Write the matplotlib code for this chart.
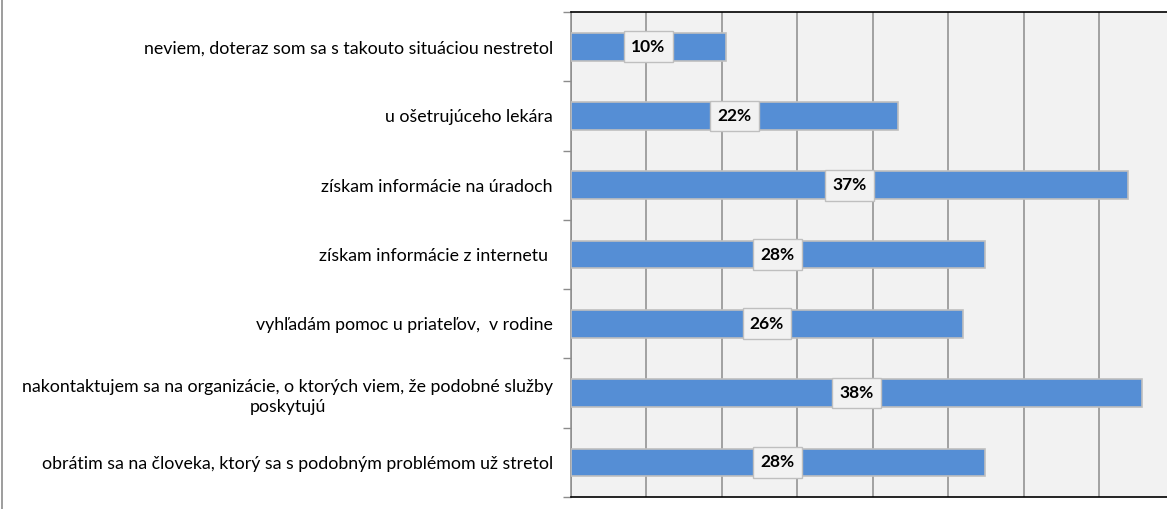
import matplotlib
matplotlib.use('Agg')
import matplotlib.pyplot as plt
from matplotlib.lines import Line2D

plt.rcParams['font.family'] = ['Lato', 'DejaVu Sans']

categories = [
    'neviem, doteraz som sa s takouto situáciou nestretol',
    'u ošetrujúceho lekára',
    'získam informácie na úradoch',
    'získam informácie z internetu ',
    'vyhľadám pomoc u priateľov,  v rodine',
    'nakontaktujem sa na organizácie, o ktorých viem, že podobné služby\nposkytujú',
    'obrátim sa na človeka, ktorý sa s podobným problémom už stretol',
]
values = [10.27, 21.69, 36.9, 27.42, 25.98, 37.83, 27.42]
value_labels = ['10%', '22%', '37%', '28%', '26%', '38%', '28%']
x_ticks = [0, 5, 10, 15, 20, 25, 30, 35, 40]

W, H = 1167, 509
fig = plt.figure(figsize=(W / 100, H / 100), dpi=100)
fig.patch.set_facecolor('white')
ax = fig.add_axes([571 / W, 1 - 497 / H, (1174.5 - 571) / W, (497 - 12) / H])
ax.set_facecolor('#F2F2F2')

ypos = list(range(len(categories)))
ax.barh(ypos, values, height=0.4, color='#558ED5', edgecolor='#BFBFBF',
        linewidth=1.2, zorder=3)

ax.set_xlim(x_ticks[0], x_ticks[-1])
ax.set_ylim(len(categories) - 0.5, -0.5)
ax.set_xticks(x_ticks)
ax.tick_params(axis='x', length=0, labelbottom=False)
ax.grid(axis='x', color='#8C8C8C', linewidth=1.1, zorder=1)
ax.grid(axis='y', visible=False)

ax.set_yticks(ypos)
ax.set_yticklabels(categories, fontsize=12.8, color='black', linespacing=1.35)
for t in ax.get_yticklabels():
    t.set_multialignment('center')
ax.tick_params(axis='y', which='major', length=0, pad=13)
ax.set_yticks([i - 0.5 for i in range(len(categories) + 1)], minor=True)
ax.tick_params(axis='y', which='minor', length=5.5, color='#8C8C8C', width=1)

for i, (v, lab) in enumerate(zip(values, value_labels)):
    ax.text(v / 2, i, lab, ha='center', va='center', fontsize=12.5,
            fontweight='bold', color='black', zorder=5,
            bbox=dict(boxstyle='square,pad=0.42', fc='#F2F2F2',
                      ec='#BFBFBF', lw=1))

ax.spines['left'].set_color('#8C8C8C')
ax.spines['left'].set_linewidth(1.1)
ax.spines['bottom'].set_color('black')
ax.spines['bottom'].set_linewidth(1.2)
ax.spines['top'].set_color('black')
ax.spines['top'].set_linewidth(1.2)
ax.spines['right'].set_visible(False)

fig.add_artist(Line2D([1.5 / W, 1.5 / W], [0, 1], transform=fig.transFigure,
                      color='#8C8C8C', linewidth=1.2))

fig.savefig('out.png', dpi=100, facecolor='white')
